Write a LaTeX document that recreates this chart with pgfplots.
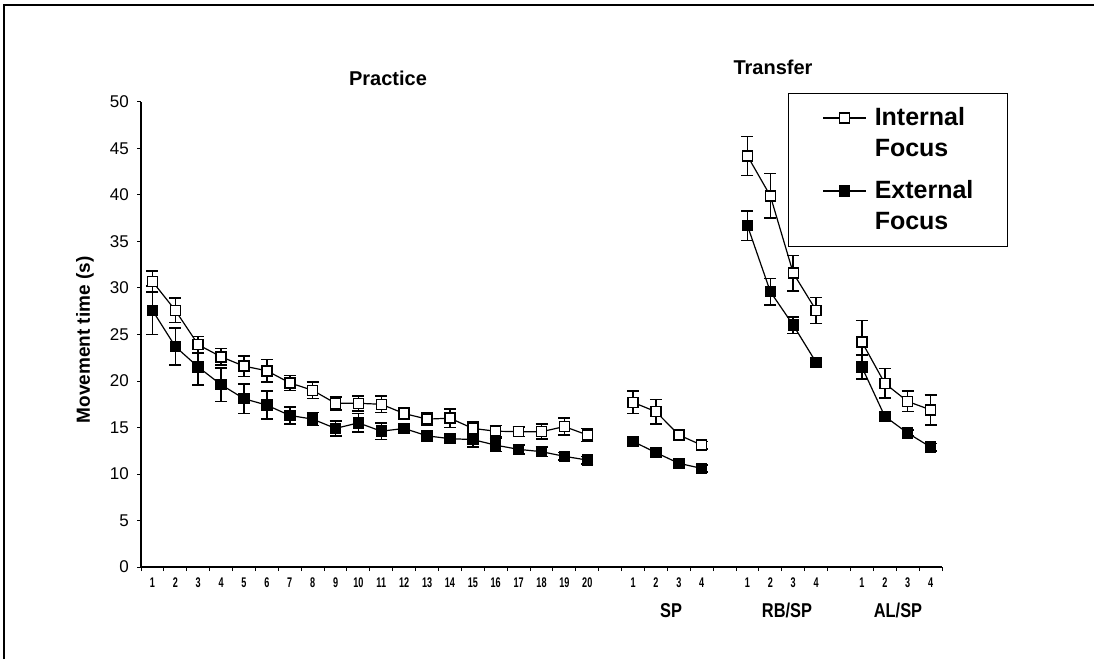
\documentclass[border=0pt]{standalone}
\usepackage{fontspec}
\setmainfont{Liberation Sans}
\newfontfamily\narrowA[FakeStretch=0.65]{Liberation Sans}
\newfontfamily\narrowB[FakeStretch=0.82]{Liberation Sans}
\usepackage{pgfplots}
\pgfplotsset{compat=1.18}
\pgfplotsset{
  intstyle/.style={black, line width=1.2pt, mark=square*, mark size=5pt,
    mark options={fill=white, solid, line width=1.5pt},
    error bars/.cd, y dir=both, y explicit,
    error bar style={line width=1.6pt},
    error mark options={rotate=90, mark size=6pt, line width=1.6pt}},
  extstyle/.style={black, line width=1.2pt, mark=square*, mark size=5pt,
    mark options={fill=black, solid, line width=1.5pt},
    error bars/.cd, y dir=both, y explicit,
    error bar style={line width=1.6pt},
    error mark options={rotate=90, mark size=6pt, line width=1.6pt}},
}
\begin{document}
\begin{tikzpicture}
\path[use as bounding box] (0pt,0pt) rectangle (1094pt,659pt);
\draw[line width=2.5pt] (4pt,0pt) -- (4pt,654pt) -- (1094pt,654pt);
\begin{axis}[
  at={(141pt,92pt)}, anchor=south west,
  scale only axis, width=801pt, height=465pt,
  xmin=0.5, xmax=35.5, ymin=0, ymax=50,
  axis x line*=bottom, axis y line*=left,
  axis line style={-, line width=1.6pt},
  tick align=outside, major tick length=4pt,
  tick style={line width=1pt, black},
  xtick={0.5,1.5,...,35.5}, xticklabels={},
  extra x ticks={1,2,3,4,5,6,7,8,9,10,11,12,13,14,15,16,17,18,19,20,22,23,24,25,27,28,29,30,32,33,34,35},
  extra x tick labels={1,2,3,4,5,6,7,8,9,10,11,12,13,14,15,16,17,18,19,20,1,2,3,4,1,2,3,4,1,2,3,4},
  extra x tick style={major tick length=0pt,
    tick label style={font=\narrowA\bfseries\fontsize{14}{14}\selectfont, anchor=north, inner sep=0pt, yshift=-11pt}},
  ytick={0,5,...,50},
  /pgf/number format/assume math mode=true,
  yticklabel style={font=\fontsize{17}{17}\selectfont, anchor=east, inner sep=0pt, xshift=-8pt},
  clip=false,
  legend style={at={(0.8077,1.0194)}, anchor=north west, draw=black, line width=1.2pt, fill=white,
    inner xsep=34pt, inner ysep=9pt, row sep=0pt, column sep=8pt,
    nodes={inner sep=0pt, text height=23pt, text depth=8pt},
    font=\bfseries\fontsize{25}{25}\selectfont, cells={anchor=west}},
  legend image code/.code={\draw[mark repeat=2,mark phase=2,#1] plot coordinates {(0pt,0pt) (21pt,0pt) (43pt,0pt)};},
]
\addlegendimage{black, line width=1.2pt, mark=square*, mark size=5pt, mark options={fill=white, line width=1.3pt}}
\addlegendentry{Internal}
\addlegendimage{empty legend}
\addlegendentry[text depth=19pt]{Focus}
\addlegendimage{black, line width=1.2pt, mark=square*, mark size=5pt, mark options={fill=black}}
\addlegendentry{External}
\addlegendimage{empty legend}
\addlegendentry{Focus}

% External focus
\addplot[forget plot, extstyle] coordinates {
(1,27.6) +- (0,2.6) (2,23.7) +- (0,2.0) (3,21.5) +- (0,1.9) (4,19.6) +- (0,1.8)
(5,18.1) +- (0,1.6) (6,17.4) +- (0,1.5) (7,16.3) +- (0,0.9) (8,15.9) +- (0,0.7)
(9,14.9) +- (0,0.8) (10,15.5) +- (0,1.0) (11,14.6) +- (0,0.9) (12,14.9) +- (0,0.5)
(13,14.1) +- (0,0.5) (14,13.8) +- (0,0.4) (15,13.7) +- (0,0.8) (16,13.1) +- (0,0.7)
(17,12.65) +- (0,0.5) (18,12.4) +- (0,0.5) (19,11.9) +- (0,0.4) (20,11.5) +- (0,0.4)};
\addplot[forget plot, extstyle] coordinates {
(22,13.5) +- (0,0.3) (23,12.3) +- (0,0.5) (24,11.15) +- (0,0.4) (25,10.6) +- (0,0.4)};
\addplot[forget plot, extstyle] coordinates {
(27,36.7) +- (0,1.6) (28,29.6) +- (0,1.4) (29,26.0) +- (0,0.9) (30,22.0) +- (0,0.4)};
\addplot[forget plot, extstyle] coordinates {
(32,21.5) +- (0,1.3) (33,16.2) +- (0,0.4) (34,14.4) +- (0,0.3) (35,12.9) +- (0,0.4)};

% Internal focus
\addplot[forget plot, intstyle] coordinates {
(1,30.7) +- (0,1.1) (2,27.6) +- (0,1.3) (3,23.9) +- (0,0.9) (4,22.6) +- (0,0.9)
(5,21.6) +- (0,1.1) (6,21.1) +- (0,1.2) (7,19.8) +- (0,0.8) (8,19.0) +- (0,0.9)
(9,17.6) +- (0,0.7) (10,17.6) +- (0,0.8) (11,17.5) +- (0,0.9) (12,16.5) +- (0,0.6)
(13,15.9) +- (0,0.7) (14,16.0) +- (0,1.0) (15,14.9) +- (0,0.7) (16,14.6) +- (0,0.6)
(17,14.55) +- (0,0.5) (18,14.55) +- (0,0.8) (19,15.1) +- (0,0.9) (20,14.2) +- (0,0.7)};
\addplot[forget plot, intstyle] coordinates {
(22,17.7) +- (0,1.2) (23,16.7) +- (0,1.3) (24,14.2) +- (0,0.5) (25,13.1) +- (0,0.4)};
\addplot[forget plot, intstyle] coordinates {
(27,44.2) +- (0,2.1) (28,39.9) +- (0,2.4) (29,31.6) +- (0,1.9) (30,27.6) +- (0,1.4)};
\addplot[forget plot, intstyle] coordinates {
(32,24.2) +- (0,2.3) (33,19.75) +- (0,1.6) (34,17.8) +- (0,1.1) (35,16.9) +- (0,1.6)};
\end{axis}
\node[font=\bfseries\fontsize{20}{20}\selectfont] at (388pt,581pt) {Practice};
\node[font=\bfseries\fontsize{20}{20}\selectfont] at (773pt,592pt) {Transfer};
\node[rotate=90, font=\bfseries\fontsize{19}{19}\selectfont] at (85pt,319pt) {Movement time (s)};
\node[anchor=base, inner sep=0pt, font=\narrowB\bfseries\fontsize{20}{20}\selectfont] at (671pt,42pt) {SP};
\node[anchor=base, inner sep=0pt, font=\narrowB\bfseries\fontsize{20}{20}\selectfont] at (787pt,42pt) {RB/SP};
\node[anchor=base, inner sep=0pt, font=\narrowB\bfseries\fontsize{20}{20}\selectfont] at (898pt,42pt) {AL/SP};
\end{tikzpicture}
\end{document}
